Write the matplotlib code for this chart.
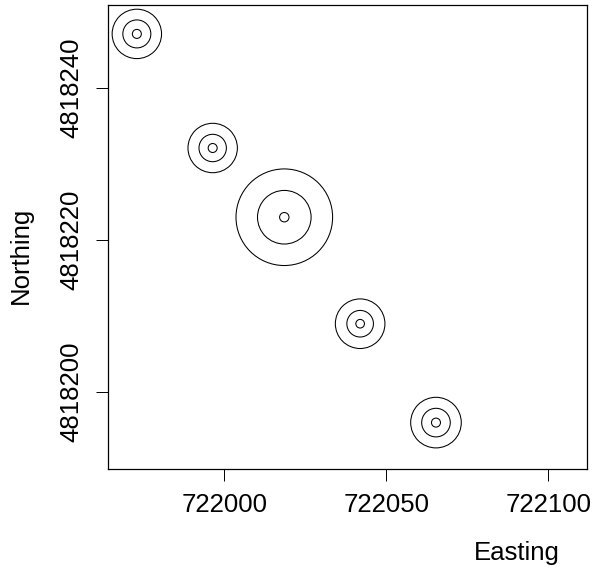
import matplotlib
matplotlib.use("Agg")
import matplotlib.pyplot as plt

# tree locations (UTM) and circle radii (pixels on the page)
easting = [721973.0, 721996.4, 722018.5, 722041.9, 722065.3]
northing = [4818247.1, 4818232.1, 4818223.0, 4818209.0, 4818196.0]
outer_r = [24.7, 24.7, 48.3, 24.8, 25.3]
middle_r = [14.0, 13.7, 26.8, 13.3, 14.3]
inner_r = [4.5, 4.5, 4.7, 4.3, 4.5]

x_ticks = [722000, 722050, 722100]
y_ticks = [4818200, 4818220, 4818240]

plt.rcParams['font.family'] = ['Liberation Sans', 'DejaVu Sans']

dpi = 100
fig = plt.figure(figsize=(6.07, 5.72), dpi=dpi)
ax = fig.add_axes([108 / 607, 1 - 469 / 572, 479 / 607, 464 / 572])

px_to_pt = 72.0 / dpi
for radii in (outer_r, middle_r, inner_r):
    sizes = [(2 * r * px_to_pt) ** 2 for r in radii]
    ax.scatter(easting, northing, s=sizes, facecolors='none',
               edgecolors='black', linewidths=0.75)

ax.set_xlim(721964.1, 722111.9)
ax.set_ylim(4818189.9, 4818250.9)

ax.set_xticks(x_ticks)
ax.set_xticklabels([str(v) for v in x_ticks])
ax.set_yticks(y_ticks)
ax.set_yticklabels([str(v) for v in y_ticks], rotation=90, va='center')

ax.tick_params(axis='both', direction='out', length=8.5, width=0.7,
               labelsize=18.5, pad=9)
for spine in ax.spines.values():
    spine.set_linewidth(0.9)

ax.set_xlabel("Easting", fontsize=18.5)
ax.xaxis.set_label_coords(0.854, -0.181)
ax.xaxis.label.set_va('center')
ax.set_ylabel("Northing", fontsize=18.5)
ax.yaxis.set_label_coords(-0.182, 0.461)
ax.yaxis.label.set_va('center')

fig.savefig("out.png", dpi=dpi)
